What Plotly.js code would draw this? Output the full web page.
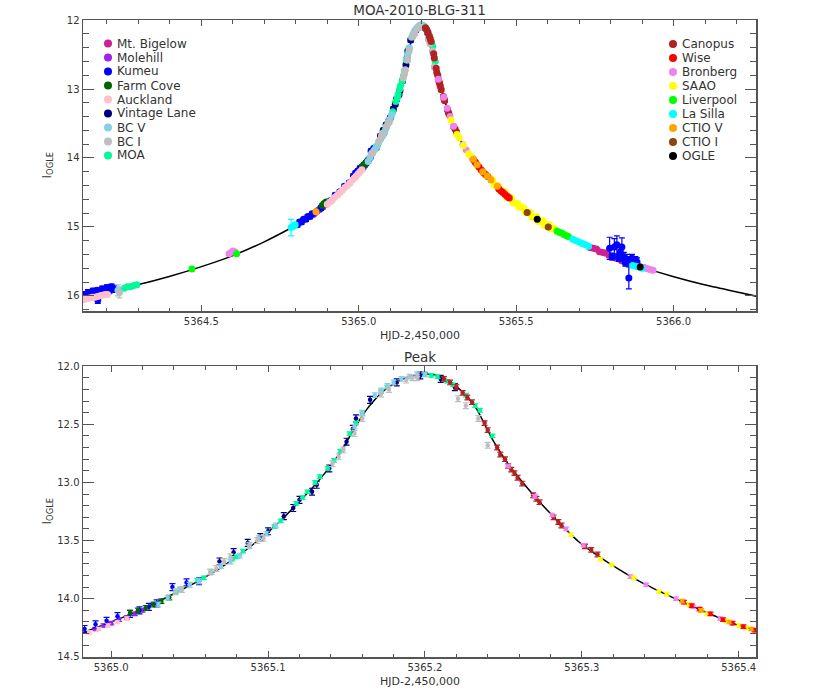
<!DOCTYPE html>
<html><head><meta charset="utf-8">
<script src="https://cdn.plot.ly/plotly-3.0.1.min.js"></script>
<style>html,body{margin:0;padding:0;background:#fff}#chart{width:830px;height:692px}</style>
</head><body><div id="chart"></div>
<script>
// ---------- model light curve ----------
const modelT = [5364.118, 5364.198, 5364.298, 5364.398, 5364.498, 5364.598, 5364.698, 5364.798, 5364.848, 5364.898, 5364.948, 5364.978, 5364.998,
  5365.018, 5365.038, 5365.058, 5365.078, 5365.098, 5365.108, 5365.118, 5365.128, 5365.138, 5365.143, 5365.148, 5365.153, 5365.158, 5365.163, 5365.168, 5365.173, 5365.178, 5365.183, 5365.188, 5365.193, 5365.198,
  5365.203, 5365.208, 5365.213, 5365.218, 5365.223, 5365.228, 5365.233, 5365.238, 5365.243, 5365.248, 5365.253, 5365.258,
  5365.268, 5365.278, 5365.288, 5365.298, 5365.308, 5365.318, 5365.338, 5365.358, 5365.378, 5365.398, 5365.418, 5365.448, 5365.498, 5365.548, 5365.598, 5365.698, 5365.798, 5365.898, 5365.998,
  5366.098, 5366.198, 5366.278];
const modelI = [16.02, 15.94, 15.84, 15.72, 15.58, 15.42, 15.22, 14.98, 14.83, 14.66, 14.45, 14.31, 14.21,
  14.10, 13.97, 13.83, 13.66, 13.45, 13.33, 13.19, 13.05, 12.89, 12.80, 12.70, 12.58, 12.47, 12.37, 12.29, 12.22, 12.17, 12.13, 12.10, 12.08, 12.07,
  12.07, 12.08, 12.11, 12.15, 12.21, 12.28, 12.37, 12.50, 12.63, 12.74, 12.84, 12.93,
  13.09, 13.24, 13.38, 13.51, 13.61, 13.70, 13.86, 13.99, 14.11, 14.22, 14.31, 14.45, 14.66, 14.83, 14.98, 15.22, 15.42, 15.58, 15.72,
  15.84, 15.94, 16.02];

// ---------- observatory data ----------
const mtBigelowT = [5365.735, 5365.745, 5365.755, 5365.765, 5365.775, 5365.785, 5365.795, 5365.805, 5365.815, 5365.825, 5365.835, 5365.845, 5365.855, 5365.865, 5365.875, 5365.885, 5365.895, 5365.905];
const mtBigelowI = [15.30, 15.31, 15.32, 15.36, 15.37, 15.38, 15.41, 15.44, 15.45, 15.45, 15.49, 15.50, 15.50, 15.54, 15.54, 15.57, 15.58, 15.59];

const molehillT = [5364.856, 5364.862, 5364.868, 5364.874, 5364.880, 5364.886, 5364.892, 5364.990, 5364.995, 5365.000, 5365.005, 5365.010, 5365.015, 5365.020];
const molehillI = [14.82, 14.79, 14.77, 14.75, 14.72, 14.71, 14.68, 14.26, 14.23, 14.21, 14.18, 14.16, 14.13, 14.10];

const kumeuT = [5364.125, 5364.132, 5364.140, 5364.148, 5364.155, 5364.163, 5364.170, 5364.171, 5364.178, 5364.185, 5364.193, 5364.200, 5364.208, 5364.215, 5364.222,
  5364.805, 5364.812, 5364.818, 5364.825, 5364.832, 5364.838, 5364.845, 5364.852, 5364.880, 5364.895, 5364.910, 5364.925, 5364.940, 5364.955, 5364.970,
  5364.983, 5364.990, 5364.997, 5365.004, 5365.012, 5365.018, 5365.024, 5365.029, 5365.039, 5365.048, 5365.056,
  5365.797, 5365.805, 5365.812, 5365.820, 5365.826, 5365.831, 5365.836, 5365.842, 5365.847, 5365.852, 5365.858, 5365.864, 5365.868, 5365.874, 5365.879, 5365.884];
const kumeuI = [15.98, 16.02, 15.95, 15.97, 15.93, 15.99, 15.92, 16.06, 15.96, 15.90, 15.93, 15.88, 15.92, 15.87, 15.90,
  14.97, 14.93, 14.93, 14.89, 14.89, 14.85, 14.85, 14.81, 14.73, 14.66, 14.62, 14.54, 14.49, 14.41, 14.36,
  14.26, 14.22, 14.19, 14.15, 14.13, 14.10, 14.07, 14.04, 13.90, 13.86, 13.85,
  15.31, 15.43, 15.29, 15.26, 15.45, 15.36, 15.29, 15.43, 15.52, 15.47, 15.74, 15.52, 15.45, 15.50, 15.48, 15.51];
const kumeuErr = [0.04, 0.05, 0.04, 0.05, 0.04, 0.06, 0.04, 0.05, 0.05, 0.04, 0.05, 0.04, 0.05, 0.04, 0.05,
  0.03, 0.03, 0.03, 0.03, 0.03, 0.03, 0.03, 0.03, 0.03, 0.03, 0.03, 0.03, 0.03, 0.03, 0.03,
  0.03, 0.03, 0.03, 0.03, 0.03, 0.03, 0.03, 0.03, 0.03, 0.03, 0.03,
  0.16, 0.05, 0.12, 0.13, 0.05, 0.08, 0.13, 0.06, 0.05, 0.07, 0.16, 0.05, 0.05, 0.06, 0.05, 0.06];

const farmCoveT = [5364.884, 5364.890, 5364.896, 5365.012, 5365.017, 5365.022, 5365.027, 5365.032, 5365.037];
const farmCoveI = [14.69, 14.66, 14.64, 14.12, 14.10, 14.08, 14.05, 14.02, 13.99];

const aucklandT = [5364.122, 5364.130, 5364.138, 5364.146, 5364.154, 5364.162, 5364.170, 5364.178, 5364.186, 5364.194, 5364.202,
  5364.900, 5364.908, 5364.916, 5364.924, 5364.932, 5364.940, 5364.948, 5364.956, 5364.964, 5364.972, 5364.980, 5364.986, 5364.992, 5364.998, 5365.004, 5365.010];
const aucklandI = [16.06, 16.05, 16.04, 16.03, 16.02, 16.02, 16.01, 16.00, 15.99, 15.98, 15.98,
  14.67, 14.64, 14.61, 14.57, 14.54, 14.50, 14.47, 14.43, 14.40, 14.36, 14.32, 14.29, 14.26, 14.23, 14.20, 14.17];

const vintageLaneT = [5365.069, 5365.078, 5365.087, 5365.095, 5365.100, 5365.110, 5365.116, 5365.120, 5365.128, 5365.131, 5365.139, 5365.150, 5365.154, 5365.156, 5365.165, 5365.182, 5365.197, 5365.210, 5365.219];
const vintageLaneI = [13.68, 13.60, 13.52, 13.47, 13.42, 13.29, 13.22, 13.15, 13.08, 13.02, 12.88, 12.65, 12.54, 12.45, 12.29, 12.14, 12.08, 12.11, 12.18];

const bcVT = [5364.235, 5365.030, 5365.036, 5365.044, 5365.050, 5365.056, 5365.064, 5365.070, 5365.076, 5365.082, 5365.088, 5365.094, 5365.099, 5365.105, 5365.155, 5365.160, 5365.168, 5365.172, 5365.176, 5365.180, 5365.185, 5365.190, 5365.195, 5365.200];
const bcVI = [15.92, 14.05, 13.99, 13.92, 13.88, 13.85, 13.77, 13.72, 13.68, 13.63, 13.55, 13.48, 13.44, 13.37, 12.52, 12.40, 12.25, 12.21, 12.17, 12.14, 12.11, 12.09, 12.07, 12.07];
const bcVErr = [0.08, 0.02, 0.02, 0.02, 0.02, 0.02, 0.02, 0.02, 0.02, 0.02, 0.02, 0.02, 0.02, 0.02, 0.02, 0.02, 0.02, 0.02, 0.02, 0.02, 0.02, 0.02, 0.02, 0.02];

const bcIT = [5364.240, 5365.041, 5365.045, 5365.063, 5365.067, 5365.072, 5365.076, 5365.088, 5365.093, 5365.097, 5365.141, 5365.145, 5365.148, 5365.155, 5365.160, 5365.172, 5365.177, 5365.188, 5365.192, 5365.195, 5365.221, 5365.226, 5365.234, 5365.240];
const bcII = [15.95, 13.94, 13.92, 13.77, 13.74, 13.68, 13.64, 13.54, 13.50, 13.48, 12.84, 12.78, 12.72, 12.58, 12.45, 12.24, 12.20, 12.12, 12.10, 12.10, 12.28, 12.34, 12.45, 12.68];
const bcIErr = [0.08, 0.025, 0.025, 0.025, 0.025, 0.025, 0.025, 0.025, 0.025, 0.025, 0.025, 0.025, 0.025, 0.025, 0.025, 0.025, 0.025, 0.025, 0.025, 0.025, 0.025, 0.025, 0.025, 0.025];

const moaT = [5364.255, 5364.265, 5364.275, 5364.285, 5364.295,
  5365.041, 5365.044, 5365.055, 5365.059, 5365.077, 5365.080, 5365.084, 5365.104, 5365.108, 5365.118, 5365.122, 5365.125, 5365.130, 5365.133, 5365.138, 5365.142, 5365.146, 5365.152, 5365.156, 5365.160, 5365.172, 5365.176, 5365.200, 5365.204, 5365.208, 5365.214, 5365.218, 5365.226, 5365.232, 5365.235, 5365.243];
const moaI = [15.89, 15.87, 15.87, 15.85, 15.84,
  13.94, 13.92, 13.84, 13.82, 13.66, 13.64, 13.59, 13.38, 13.33, 13.18, 13.13, 13.08, 13.00, 12.95, 12.88, 12.81, 12.73, 12.58, 12.49, 12.41, 12.22, 12.18, 12.07, 12.08, 12.09, 12.13, 12.16, 12.25, 12.34, 12.38, 12.60];

const canopusT = [5365.212, 5365.216, 5365.220, 5365.224, 5365.227, 5365.230, 5365.238, 5365.240, 5365.246, 5365.248, 5365.251, 5365.253, 5365.255, 5365.257, 5365.259, 5365.262, 5365.269, 5365.271, 5365.273, 5365.282, 5365.285, 5365.287, 5365.302, 5365.306, 5365.310];
const canopusI = [12.11, 12.14, 12.18, 12.23, 12.27, 12.31, 12.49, 12.55, 12.70, 12.76, 12.80, 12.86, 12.89, 12.92, 12.96, 13.01, 13.11, 13.14, 13.17, 13.30, 13.34, 13.37, 13.55, 13.58, 13.62];

const wiseT = [5365.365, 5365.370, 5365.375, 5365.382, 5365.390, 5365.396, 5365.403, 5365.410, 5365.445, 5365.452, 5365.458, 5365.465, 5365.472, 5365.478];
const wiseI = [14.03, 14.06, 14.09, 14.13, 14.18, 14.21, 14.24, 14.27, 14.45, 14.48, 14.50, 14.53, 14.56, 14.58];

const bronbergT = [5364.588, 5364.594, 5364.600, 5364.606, 5365.253, 5365.270, 5365.281, 5365.290, 5365.301, 5365.331, 5365.341, 5365.360, 5365.371, 5365.388, 5365.905, 5365.912, 5365.920, 5365.928, 5365.935];
const bronbergI = [15.39, 15.37, 15.35, 15.36, 12.86, 13.12, 13.28, 13.40, 13.54, 13.81, 13.88, 14.00, 14.07, 14.17, 15.59, 15.60, 15.61, 15.62, 15.63];

const saaoT = [5365.293, 5365.312, 5365.319, 5365.333, 5365.349, 5365.354, 5365.368, 5365.376, 5365.380, 5365.392, 5365.400, 5365.405,
  5365.420, 5365.430, 5365.440, 5365.450, 5365.460, 5365.470, 5365.480, 5365.490, 5365.500, 5365.510, 5365.520, 5365.530, 5365.540, 5365.550, 5365.560, 5365.570, 5365.580, 5365.590, 5365.600, 5365.610, 5365.620, 5365.630,
  5365.425, 5365.445, 5365.465, 5365.485, 5365.505, 5365.525, 5365.545, 5365.565, 5365.585, 5365.605];
const saaoI = [13.45, 13.66, 13.71, 13.82, 13.94, 13.96, 14.05, 14.10, 14.13, 14.19, 14.23, 14.25,
  14.30, 14.39, 14.40, 14.48, 14.49, 14.57, 14.57, 14.65, 14.66, 14.72, 14.72, 14.79, 14.79, 14.86, 14.86, 14.92, 14.92, 14.98, 14.97, 15.03, 15.02, 15.07,
  14.32, 14.41, 14.49, 14.58, 14.66, 14.73, 14.79, 14.85, 14.91, 14.97];

const liverpoolT = [5364.470, 5364.612, 5365.630, 5365.638, 5365.645, 5365.652, 5365.660, 5365.666];
const liverpoolI = [15.61, 15.39, 15.06, 15.08, 15.09, 15.11, 15.13, 15.14];

const laSillaT = [5364.785, 5364.792, 5364.798, 5365.680, 5365.690, 5365.700, 5365.710, 5365.720, 5365.730, 5365.870, 5365.880, 5365.890, 5365.900];
const laSillaI = [15.01, 14.99, 14.97, 15.18, 15.20, 15.22, 15.24, 15.26, 15.28, 15.56, 15.57, 15.58, 15.60];
const laSillaErr = [0.12, 0.03, 0.03, 0.02, 0.02, 0.02, 0.02, 0.02, 0.02, 0.02, 0.02, 0.02, 0.02];

const ctioVT = [5364.864, 5365.364, 5365.376, 5365.394, 5365.408, 5365.420, 5365.440];
const ctioVI = [14.78, 14.02, 14.10, 14.20, 14.26, 14.32, 14.41];

const ctioIT = [5365.535, 5365.602];
const ctioII = [14.79, 15.00];

const ogleT = [5365.567, 5365.894];
const ogleI = [14.89, 15.58];

// ---------- site list (legend order) ----------
const siteNames = ['Mt. Bigelow', 'Molehill', 'Kumeu', 'Farm Cove', 'Auckland', 'Vintage Lane', 'BC V', 'BC I', 'MOA',
                   'Canopus', 'Wise', 'Bronberg', 'SAAO', 'Liverpool', 'La Silla', 'CTIO V', 'CTIO I', 'OGLE'];
const siteT = [mtBigelowT, molehillT, kumeuT, farmCoveT, aucklandT, vintageLaneT, bcVT, bcIT, moaT,
               canopusT, wiseT, bronbergT, saaoT, liverpoolT, laSillaT, ctioVT, ctioIT, ogleT];
const siteI = [mtBigelowI, molehillI, kumeuI, farmCoveI, aucklandI, vintageLaneI, bcVI, bcII, moaI,
               canopusI, wiseI, bronbergI, saaoI, liverpoolI, laSillaI, ctioVI, ctioII, ogleI];
const siteErr = [0.02, 0.015, kumeuErr, 0.02, 0.015, 0.03, bcVErr, bcIErr, 0.015,
                 0.02, 0.015, 0.015, 0.015, 0.015, laSillaErr, 0.015, 0.015, 0.015];

// ---------- styles ----------
const siteColors = ['#D0208F', '#A020F0', '#0000FF', '#006400', '#FFC0CB', '#000080', '#87CEEB', '#BEBEBE', '#00FA9A',
                    '#B22222', '#FF0000', '#EE82EE', '#FFFF00', '#00FF00', '#00FFFF', '#FFA500', '#8B4513', '#000000'];
// drawing order (later = on top)
const drawOrder = [0, 1, 2, 3, 4, 5, 8, 6, 7, 9, 11, 12, 13, 14, 10, 15, 16, 17];
const FONT = 'DejaVu Sans, Liberation Sans, sans-serif';
const TXT = '#333333';
const FRAME = '#555555';
const W = 830, H = 692;
const plotL = 83, plotR = 756;
const topY0 = 20, topY1 = 311, botY0 = 366, botY1 = 657;
const px = v => v / W, py = v => 1 - v / H;

const traces = [];
[['x', 'y'], ['x2', 'y2']].forEach(([xa, ya]) => {
  traces.push({x: modelT, y: modelI, xaxis: xa, yaxis: ya, type: 'scatter', mode: 'lines',
    line: {color: '#000', width: 1.5, shape: 'spline', smoothing: 0.6}, hoverinfo: 'skip', showlegend: false});
});
drawOrder.forEach(k => {
  const name = siteNames[k];
  const err = siteErr[k];
  const errY = Array.isArray(err) ? {type: 'data', array: err} : {type: 'constant', value: err};
  [['x', 'y', 7, 3], ['x2', 'y2', 4.5, 3]].forEach(([xa, ya, ms, cap]) => {
    traces.push({
      x: siteT[k], y: siteI[k], xaxis: xa, yaxis: ya, type: 'scatter', mode: 'markers', name: name,
      marker: {color: siteColors[k], size: ms, symbol: 'circle', line: {width: 0}},
      error_y: Object.assign({color: siteColors[k], thickness: 1.2, width: cap}, errY),
      showlegend: false
    });
  });
});

function axisBase(extra) {
  return Object.assign({
    ticks: 'inside', tickcolor: FRAME, tickwidth: 1, showline: true, linecolor: FRAME, linewidth: 1.5,
    mirror: 'allticks', showgrid: false, zeroline: false,
    tickfont: {family: FONT, size: 10, color: TXT}
  }, extra);
}

const xDomain = [px(plotL), px(plotR)];
const layout = {
  width: W, height: H, margin: {l: 0, r: 0, t: 0, b: 0},
  paper_bgcolor: '#fff', plot_bgcolor: '#fff', showlegend: false,
  title: {text: 'MOA-2010-BLG-311', font: {family: FONT, size: 13.5, color: TXT},
          x: px((plotL + plotR) / 2), xref: 'paper', xanchor: 'center', y: py(10), yref: 'paper', yanchor: 'middle'},
  xaxis: axisBase({domain: xDomain, anchor: 'y', range: [5364.124, 5366.262], tick0: 5364.5, dtick: 0.5, tickformat: '.1f',
    ticklen: 6, minor: {dtick: 0.1, ticklen: 3.5, tickcolor: FRAME, ticks: 'inside'}}),
  yaxis: axisBase({domain: [py(topY1), py(topY0)], anchor: 'x', range: [16.22, 11.999], tick0: 12, dtick: 1,
    ticklen: 11, minor: {dtick: 0.2, ticklen: 6, tickcolor: FRAME, ticks: 'inside'}}),
  xaxis2: axisBase({domain: xDomain, anchor: 'y2', range: [5364.982, 5365.411], tick0: 5365, dtick: 0.1, tickformat: '.1f',
    ticklen: 6, minor: {dtick: 0.02, ticklen: 3.5, tickcolor: FRAME, ticks: 'inside'}}),
  yaxis2: axisBase({domain: [py(botY1), py(botY0)], anchor: 'x2', range: [14.501, 11.999], tick0: 12, dtick: 0.5, tickformat: '.1f',
    ticklen: 11, minor: {dtick: 0.1, ticklen: 6, tickcolor: FRAME, ticks: 'inside'}}),
  annotations: [],
  shapes: []
};

const ann = (text, x, y, opts) => Object.assign({text: text, x: x, y: y, xref: 'paper', yref: 'paper', showarrow: false,
  font: {family: FONT, size: 12, color: TXT}, xanchor: 'center', yanchor: 'middle'}, opts || {});
layout.annotations.push(ann('Peak', px((plotL + plotR) / 2), py(357), {font: {family: FONT, size: 13.5, color: TXT}}));
layout.annotations.push(ann('HJD-2,450,000', px((plotL + plotR) / 2), py(topY1 + 24), {font: {family: FONT, size: 11, color: TXT}}));
layout.annotations.push(ann('HJD-2,450,000', px((plotL + plotR) / 2), py(botY1 + 24), {font: {family: FONT, size: 11, color: TXT}}));
layout.annotations.push(ann('I<sub>OGLE</sub>', px(47), py((topY0 + topY1) / 2), {textangle: -90}));
layout.annotations.push(ann('I<sub>OGLE</sub>', px(47), py((botY0 + botY1) / 2), {textangle: -90}));

// legend (two columns)
const legendCols = [{dotX: 108, textX: 115, firstRow: 43.5}, {dotX: 673, textX: 680, firstRow: 44}];
siteNames.forEach((name, k) => {
  const col = legendCols[k < 9 ? 0 : 1];
  const rowY = col.firstRow + (k % 9) * 14;
  layout.shapes.push({type: 'circle', xref: 'paper', yref: 'paper', xsizemode: 'pixel', ysizemode: 'pixel',
    xanchor: px(col.dotX), yanchor: py(rowY), x0: -4, x1: 4, y0: -4, y1: 4,
    fillcolor: siteColors[k], line: {width: 0}});
  layout.annotations.push(ann(name, px(col.textX), py(rowY), {xanchor: 'left'}));
});

Plotly.newPlot('chart', traces, layout, {displayModeBar: false, staticPlot: true});
</script></body></html>
